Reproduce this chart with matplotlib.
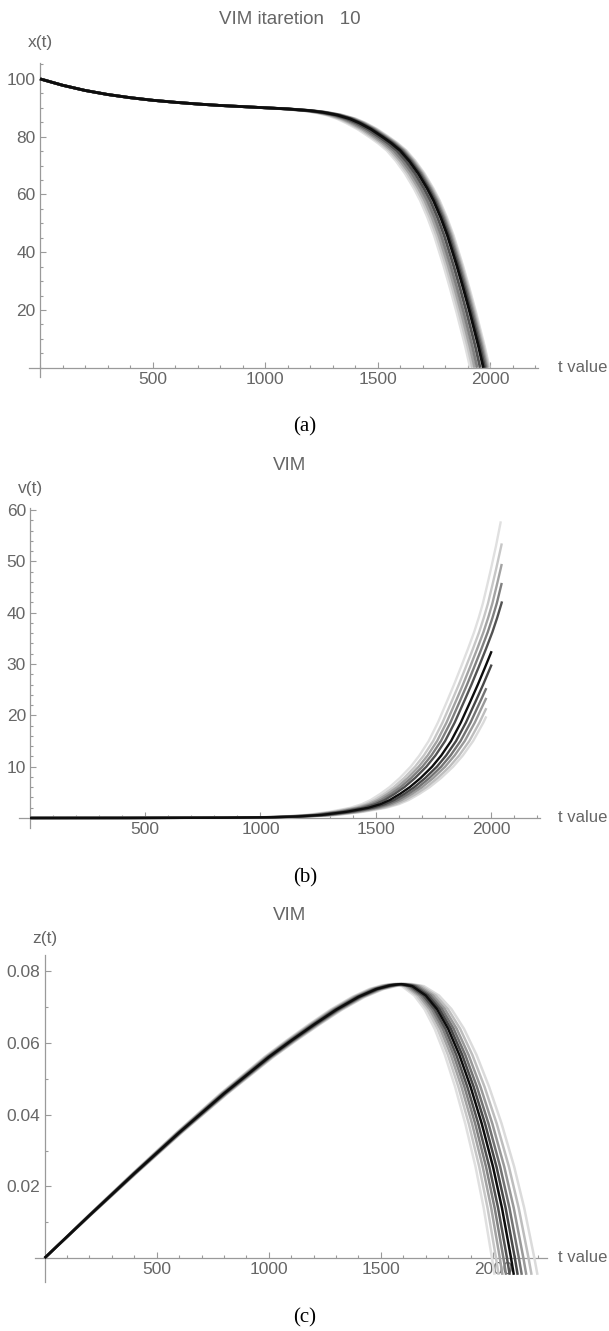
import numpy as np
import matplotlib
matplotlib.use("Agg")
import matplotlib.pyplot as plt
from matplotlib.ticker import MultipleLocator, FixedLocator

plt.rcParams["font.family"] = ["Liberation Sans", "DejaVu Sans"]

W, H = 609, 1331

# gray level of each curve of the family (0 = black)
SHADES = [0.88, 0.78, 0.64, 0.50, 0.32, 0.05, 0.28, 0.45, 0.60, 0.74, 0.86]

# (a) x(t): black curve
XA_T = [0, 100, 200, 300, 400, 500, 600, 700, 800, 900, 1000, 1100, 1200, 1260, 1320,
        1376, 1420, 1470, 1520, 1560, 1600, 1640, 1680, 1720, 1748, 1780, 1810, 1852,
        1880, 1910, 1948, 1970]
XA_V = [100, 97.8, 96.0, 94.6, 93.5, 92.6, 91.9, 91.3, 90.8, 90.4, 90.0, 89.6, 89.0, 88.4, 87.5,
        86.2, 84.7, 82.6, 80.0, 77.8, 75.2, 71.6, 67.3, 62.1, 57.9, 52.1, 45.8, 35.3,
        27.7, 19.1, 7.5, 0.0]
# t where each curve of the band meets the axis
XA_ZERO = [1912, 1922, 1932, 1943, 1956, 1970, 1976, 1982, 1987, 1992, 1997]

# (b) v(t): top (lightest) curve
VB_T = [0, 400, 800, 1000, 1100, 1200, 1300, 1391, 1440, 1478, 1520, 1560, 1605, 1652,
        1690, 1730, 1770, 1812, 1840, 1870, 1900, 1927, 1947, 1965, 1983, 2000, 2022, 2043]
VB_V = [0, 0.01, 0.05, 0.15, 0.3, 0.6, 1.2, 2.0, 2.7, 3.5, 4.7, 6.0, 7.8, 10.0,
        12.2, 15.0, 18.6, 23.0, 26.0, 29.4, 32.9, 36.2, 39.0, 41.8, 45.2, 48.5, 53.0, 57.8]
# end point of each curve
VB_END_T = [2043, 2047, 2047, 2047, 2048, 2003, 2003, 1980, 1980, 1980, 1980]
VB_END_V = [57.8, 53.5, 49.5, 45.8, 42.2, 32.5, 29.9, 25.3, 23.4, 21.4, 19.8]

# (c) z(t): black curve
ZC_T = [0, 200, 400, 600, 800, 1000, 1100, 1200, 1300, 1400, 1480, 1540, 1590, 1640,
        1700, 1750, 1800, 1850, 1900, 1950, 2000, 2040, 2080, 2093]
ZC_V = [0, 0.0119, 0.0236, 0.0350, 0.0459, 0.0561, 0.0607, 0.0651, 0.0693, 0.0729,
        0.0751, 0.0761, 0.0765, 0.0759, 0.0733, 0.0695, 0.0640, 0.0567, 0.0478, 0.0375,
        0.0255, 0.0140, 0.0002, -0.0047]
ZC_PIVOT = 1450
# slight spread of the rising side, and where each curve meets the axis
ZC_RISE = [0.98, 0.984, 0.988, 0.992, 0.996, 1.0, 1.004, 1.008, 1.012, 1.016, 1.02]
ZC_ZERO = [1995, 2013, 2030, 2046, 2062, 2080, 2097, 2115, 2135, 2158, 2184]

AXIS_COL = "#9a9a9a"
TXT_COL = "#666666"
SERIF = ["Liberation Serif", "DejaVu Serif"]

fig = plt.figure(figsize=(W / 100, H / 100), dpi=100)


def px_axes(left, right, top, bottom):
    return fig.add_axes([left / W, 1 - bottom / H, (right - left) / W, (bottom - top) / H])


def px_text(x, y, s, **kw):
    fig.text(x / W, 1 - y / H, s, **kw)


def style(ax, xlim, ylim, yticks, ymin, yfmt):
    ax.set_xlim(*xlim)
    ax.set_ylim(*ylim)
    for s in ["top", "right"]:
        ax.spines[s].set_visible(False)
    for s in ["left", "bottom"]:
        ax.spines[s].set_position(("data", 0))
        ax.spines[s].set_color(AXIS_COL)
        ax.spines[s].set_linewidth(0.9)
    ax.xaxis.set_major_locator(FixedLocator([500, 1000, 1500, 2000]))
    ax.xaxis.set_minor_locator(MultipleLocator(100))
    ax.yaxis.set_major_locator(FixedLocator(yticks))
    ax.yaxis.set_minor_locator(MultipleLocator(ymin))
    ax.set_yticklabels([yfmt(v) for v in yticks])
    ax.tick_params(which="both", direction="in", colors=AXIS_COL, labelcolor=TXT_COL,
                   labelsize=12.5, width=0.8)
    ax.tick_params(which="major", length=4.5, pad=3)
    ax.tick_params(which="minor", length=2.5)
    ax.patch.set_visible(False)


def draw_family(ax, curves, lw):
    for k in np.argsort(SHADES)[::-1]:
        t, y = curves[k]
        ax.plot(t, y, color=str(SHADES[k]), lw=lw, solid_capstyle="butt",
                solid_joinstyle="round", zorder=3 + (1 - SHADES[k]))


def labels(title, ty, ylab, yx, yy, axis_y, cap, cy):
    px_text(290, ty, title, ha="center", va="center", color=TXT_COL, fontsize=13.5)
    px_text(yx, yy, ylab, ha="center", va="center", color=TXT_COL, fontsize=12.5)
    px_text(558, axis_y, "t value", ha="left", va="center", color=TXT_COL, fontsize=12)
    px_text(305, cy, cap, ha="center", va="center", color="black", fontsize=15, family=SERIF)


# ---- (a): band = black curve moved sideways after the flat part
ax = px_axes(29, 538, 63, 377)
ta, va = np.array(XA_T, float), np.array(XA_V, float)
ramp = np.clip((ta - 1000) / 400, 0, 1)
curves = [(ta + (z - XA_T[-1]) * ramp, va) for z in XA_ZERO]
draw_family(ax, curves, 2.0)
style(ax, (-49, 2213), (-3.2, 105.5), [20, 40, 60, 80, 100], 5, lambda v: f"{v}")
labels("VIM itaretion   10", 20, "x(t)", 40, 43, 368, "(a)", 427)

# ---- (b): family = top curve stretched in time up to each end point
ax = px_axes(19, 540, 508, 828)
tb, vb = np.array(VB_T, float), np.array(VB_V, float)
curves = []
for te, ve in zip(VB_END_T, VB_END_V):
    a = np.interp(ve, vb, tb) / te
    keep = vb < ve
    curves.append((np.append(tb[keep] / a, te), np.append(vb[keep], ve)))
draw_family(ax, curves, 1.7)
style(ax, (-48, 2213), (-1.95, 60.4), [10, 20, 30, 40, 50, 60], 2, lambda v: f"{v}")
labels("VIM", 465, "v(t)", 30, 488, 818, "(b)", 878)

# ---- (c): rising side slightly stretched, falling side stretched about a pivot
ax = px_axes(35, 547, 955, 1282)
tc, vc = np.array(ZC_T, float), np.array(ZC_V, float)
curves = []
for s, z in zip(ZC_RISE, ZC_ZERO):
    p = ZC_PIVOT * s
    c = (z - p) / (2080 - ZC_PIVOT)
    curves.append((np.where(tc > ZC_PIVOT, p + (tc - ZC_PIVOT) * c, tc * s), vc))
draw_family(ax, curves, 1.8)
style(ax, (-43, 2241), (-0.0067, 0.0846), [0.02, 0.04, 0.06, 0.08], 0.01, lambda v: f"{v:.2f}")
labels("VIM", 915, "z(t)", 45, 938, 1257, "(c)", 1318)

fig.savefig("out.png", dpi=100)
